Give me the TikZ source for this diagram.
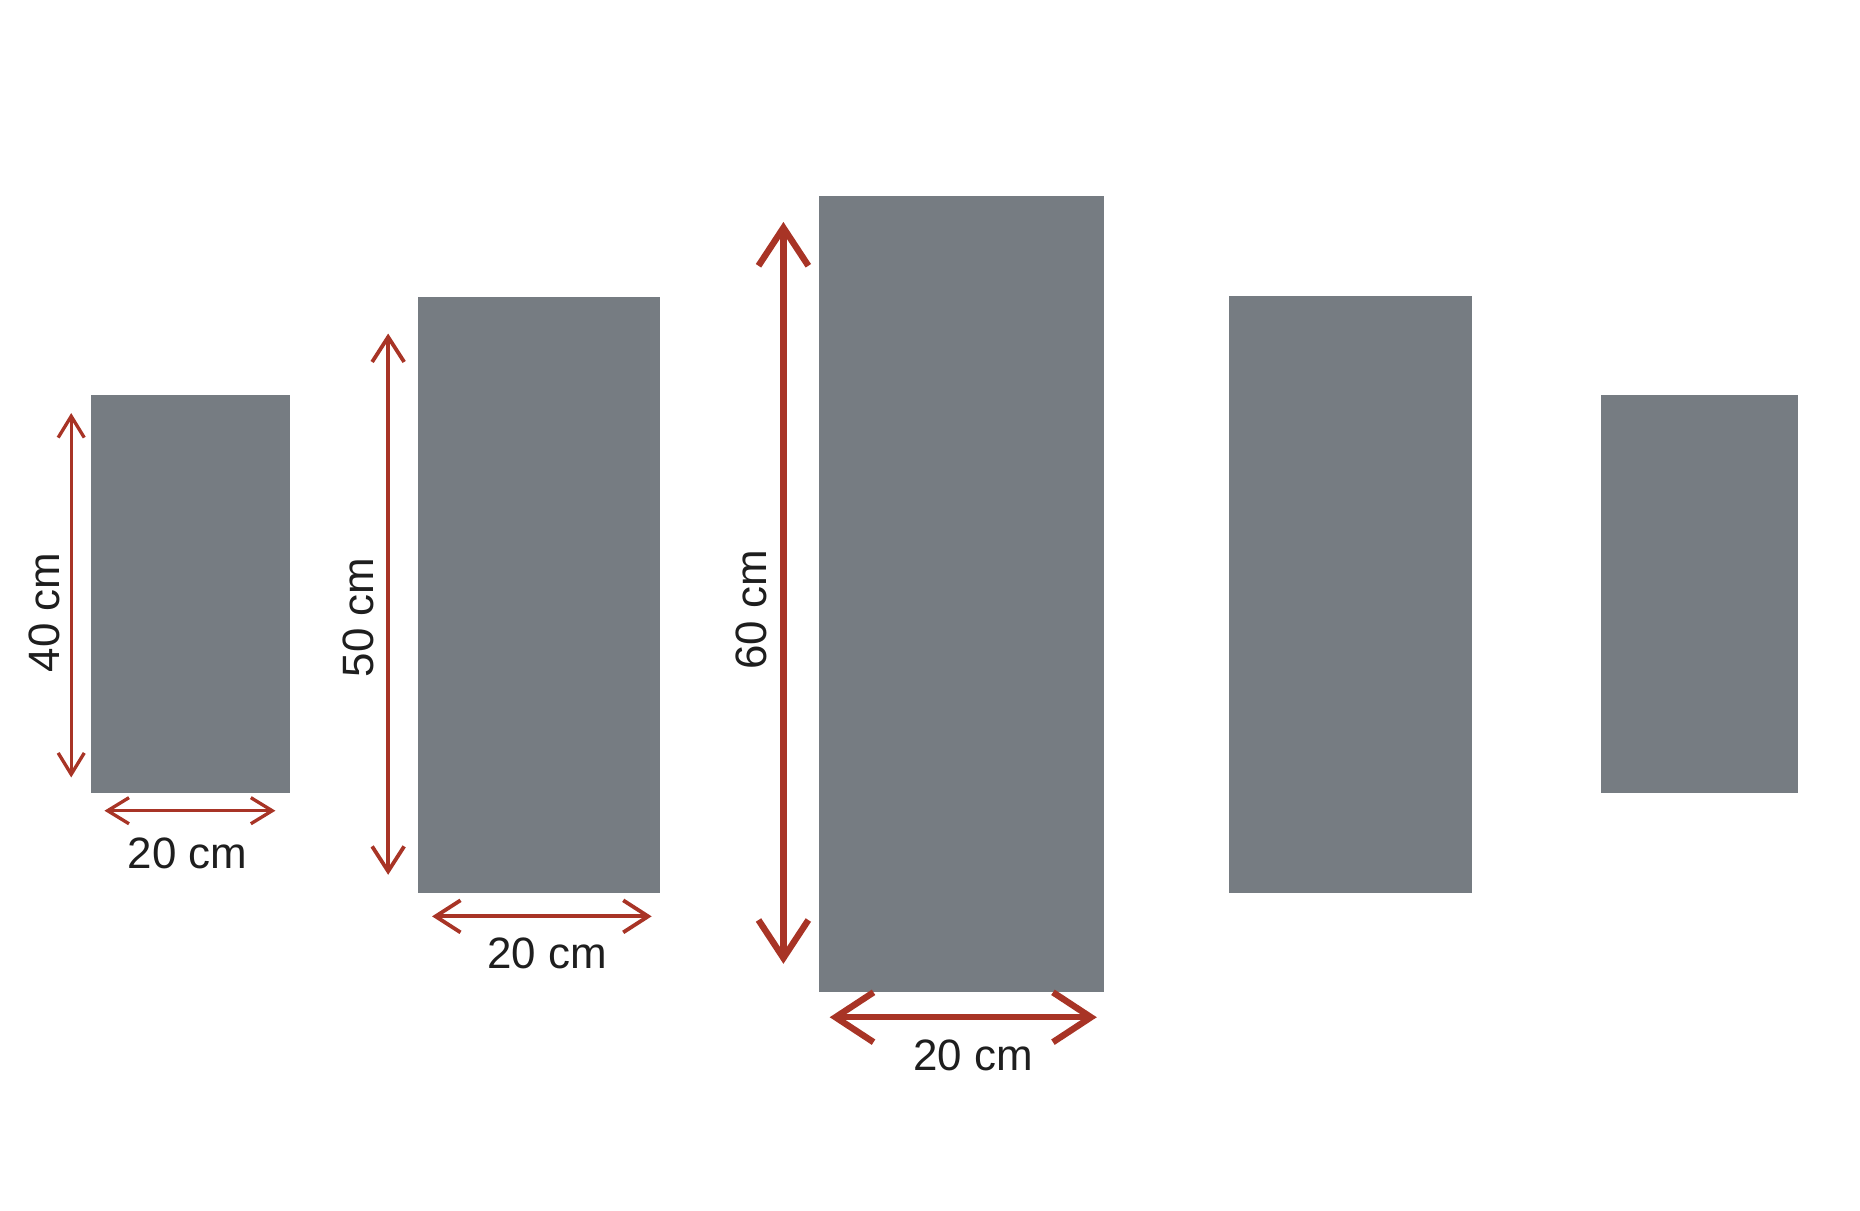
\documentclass[tikz,border=0pt]{standalone}
\usepackage{fontspec}
\setmainfont{Liberation Sans}
\usetikzlibrary{arrows.meta}
\definecolor{panelgrey}{RGB}{118,124,130}
\definecolor{dimred}{RGB}{168,52,38}
\definecolor{labelink}{RGB}{30,30,30}
\tikzset{
  panel/.style={fill=panelgrey},
  dimone/.style={draw=dimred, line width=1.4pt, {Straight Barb[length=9pt,width=11pt]}-{Straight Barb[length=9pt,width=11pt]}},
  dimtwo/.style={draw=dimred, line width=1.6pt, {Straight Barb[length=10.5pt,width=13.5pt]}-{Straight Barb[length=10.5pt,width=13.5pt]}},
  dimthree/.style={draw=dimred, line width=2.7pt, {Straight Barb[length=16pt,width=21pt]}-{Straight Barb[length=16pt,width=21pt]}},
  dimlabel/.style={text=labelink, font=\fontsize{18.5pt}{20pt}\selectfont, inner sep=0pt}
}
\begin{document}
\begin{tikzpicture}[x=0.5pt,y=-0.5pt]
\useasboundingbox (0,0) rectangle (1567,1020);
% panels
\fill[panel] (77,333) rectangle (244,668);
\fill[panel] (352,250) rectangle (556,752);
\fill[panel] (690,165) rectangle (930,836);
\fill[panel] (1035,249) rectangle (1240,752);
\fill[panel] (1349,333) rectangle (1515,668);
% dimension end points
\coordinate (v1t) at (60,348);  \coordinate (v1b) at (60,655);
\coordinate (h1l) at (88,683);  \coordinate (h1r) at (232,683);
\coordinate (v2t) at (327,281); \coordinate (v2b) at (327,737);
\coordinate (h2l) at (364,772); \coordinate (h2r) at (549,772);
\coordinate (v3t) at (660,187); \coordinate (v3b) at (660,812);
\coordinate (h3l) at (699,857); \coordinate (h3r) at (924,857);
% arrows
\draw[dimone] (v1t) -- (v1b);
\draw[dimone] (h1l) -- (h1r);
\draw[dimtwo] (v2t) -- (v2b);
\draw[dimtwo] (h2l) -- (h2r);
\draw[dimthree] (v3t) -- (v3b);
\draw[dimthree] (h3l) -- (h3r);
% labels
\node[dimlabel, rotate=90] (l40) at (37,516) {40 cm};
\node[dimlabel] (lw1) at (158,719) {20 cm};
\node[dimlabel, rotate=90] (l50) at (302,520) {50 cm};
\node[dimlabel] (lw2) at (461,803) {20 cm};
\node[dimlabel, rotate=90] (l60) at (633,514) {60 cm};
\node[dimlabel] (lw3) at (820,889) {20 cm};
\end{tikzpicture}
\end{document}
